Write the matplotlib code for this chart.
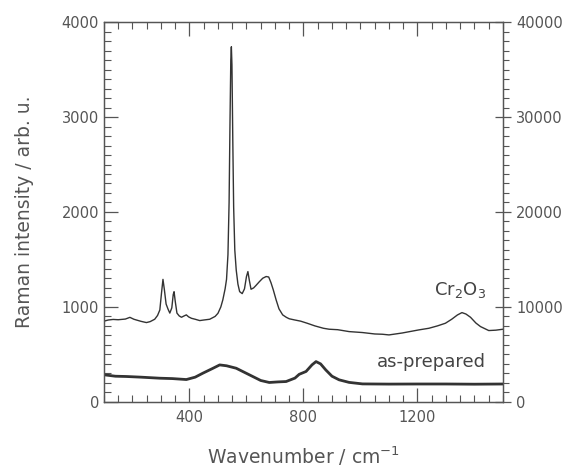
import matplotlib
matplotlib.use("Agg")
import matplotlib.pyplot as plt
from matplotlib.ticker import MultipleLocator

plt.rcParams.update({
    "font.family": "DejaVu Sans",
    "font.size": 10.5,
})

C_LINE = "#333333"
C_AXIS = "#555555"

# Cr2O3 reference spectrum (left axis)
cr_wn = [100, 115, 132, 150, 175, 191, 205, 214, 230, 249, 262, 278, 288, 296,
         302, 307, 312, 318, 325, 331, 338, 343, 346, 350, 356, 364, 372, 381,
         389, 397, 407, 420, 436, 450, 471, 490, 500, 510, 517, 525, 530, 535,
         539, 542, 545, 547, 549, 552, 555, 559, 564, 570, 576, 585, 593, 600,
         605, 610, 616, 625, 633, 645, 657, 669, 678, 686, 694, 704, 714, 727,
         740, 750, 770, 790, 813, 840, 870, 890, 920, 960, 1007, 1050, 1077,
         1100, 1146, 1205, 1240, 1270, 1298, 1320, 1340, 1356, 1370, 1386,
         1405, 1421, 1450, 1475, 1500]
cr_int = [850, 862, 868, 865, 872, 890, 870, 862, 848, 835, 845, 870, 910, 968,
          1150, 1290, 1180, 1030, 975, 935, 990, 1130, 1160, 1060, 935, 905,
          891, 905, 916, 895, 880, 870, 856, 862, 870, 900, 933, 1000, 1074,
          1190, 1290, 1550, 2100, 2900, 3600, 3740, 3550, 2750, 2050, 1600,
          1389, 1240, 1161, 1140, 1190, 1320, 1372, 1280, 1186, 1200, 1225,
          1265, 1302, 1320, 1315, 1255, 1180, 1074, 980, 916, 890, 875, 862,
          850, 828, 800, 775, 765, 760, 740, 730, 715, 712, 705, 725, 758, 775,
          800, 828, 870, 915, 940, 925, 891, 830, 793, 751, 755, 765]

# as-prepared sample (right axis)
ap_wn = [100, 140, 179, 230, 296, 340, 389, 420, 447, 480, 506, 530, 564, 600,
         622, 650, 680, 710, 739, 770, 785, 809, 830, 844, 860, 878, 900, 925,
         960, 1007, 1100, 1200, 1300, 1400, 1500]
ap_int = [2850, 2700, 2670, 2600, 2490, 2450, 2350, 2600, 3020, 3500, 3890,
          3800, 3540, 3000, 2670, 2250, 2040, 2100, 2140, 2500, 2900, 3200,
          3900, 4240, 4000, 3370, 2700, 2320, 2050, 1890, 1870, 1880, 1880,
          1860, 1880]

fig, ax = plt.subplots(figsize=(5.62, 4.70), dpi=100)
fig.subplots_adjust(left=0.185, right=0.895, top=0.953, bottom=0.145)
ax2 = ax.twinx()

ax.plot(cr_wn, cr_int, color=C_LINE, lw=1.0)
ax2.plot(ap_wn, ap_int, color=C_LINE, lw=2.0)

ax.set_xlim(100, 1500)
ax.set_ylim(0, 4000)
ax2.set_ylim(0, 40000)

ax.xaxis.set_major_locator(MultipleLocator(400))
ax.xaxis.set_minor_locator(MultipleLocator(50))
ax.yaxis.set_major_locator(MultipleLocator(1000))
ax.yaxis.set_minor_locator(MultipleLocator(100))
ax2.yaxis.set_major_locator(MultipleLocator(10000))
ax2.yaxis.set_minor_locator(MultipleLocator(1000))

ax.tick_params(axis="x", which="both", direction="in", top=True, colors=C_AXIS,
               labelcolor="#555555", pad=6)
ax.tick_params(axis="x", which="major", length=10, width=0.9)
ax.tick_params(axis="x", which="minor", length=5, width=0.8)
ax.tick_params(axis="y", which="both", direction="in", right=False,
               colors=C_AXIS, labelcolor="#555555")
ax.tick_params(axis="y", which="major", length=10, width=0.9)
ax.tick_params(axis="y", which="minor", length=5, width=0.8)
ax2.tick_params(axis="y", which="major", direction="inout", length=12,
                width=0.9, colors=C_AXIS, labelcolor="#555555")
ax2.tick_params(axis="y", which="minor", direction="out", length=4,
                width=0.8, colors=C_AXIS)

for a in (ax, ax2):
    for s in a.spines.values():
        s.set_color(C_AXIS)
        s.set_linewidth(0.9)

ax.set_xlabel("Wavenumber / cm$^{-1}$", fontsize=13.5, color="#555555",
              labelpad=14)
ax.set_ylabel("Raman intensity / arb. u.", fontsize=13.5, color="#555555",
              labelpad=20)

ax.text(1440, 1180, "Cr$_2$O$_3$", fontsize=13, color="#444444",
        ha="right", va="center")
ax.text(1440, 421, "as-prepared", fontsize=13, color="#444444",
        ha="right", va="center")

fig.savefig("out.png", dpi=100)
